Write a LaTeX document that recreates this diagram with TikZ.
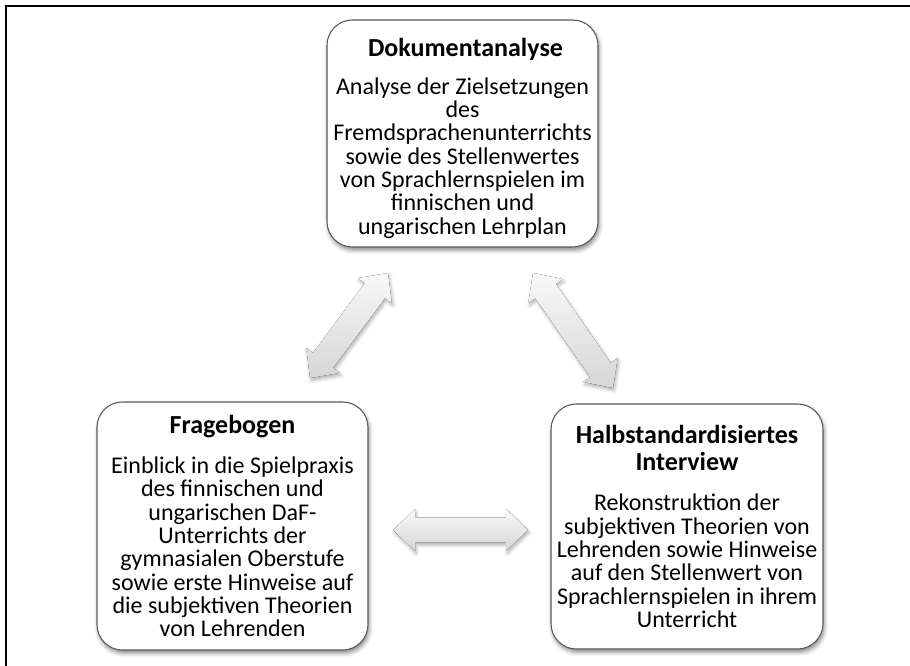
\documentclass[tikz,border=0pt]{standalone}
\usepackage{fontspec}
\setmainfont{Carlito}
\usetikzlibrary{calc,shadows.blur}
\newcommand\blockarrow[2]{%
  \fill[barrow] (#1)
    -- ($(#1)!16.5pt!(#2)!15.75pt!90:(#2)$)
    -- ($(#1)!16.5pt!(#2)!9.4pt!90:(#2)$)
    -- ($(#2)!16.5pt!(#1)!9.4pt!-90:(#1)$)
    -- ($(#2)!16.5pt!(#1)!15.75pt!-90:(#1)$)
    -- (#2)
    -- ($(#2)!16.5pt!(#1)!15.75pt!90:(#1)$)
    -- ($(#2)!16.5pt!(#1)!9.4pt!90:(#1)$)
    -- ($(#1)!16.5pt!(#2)!9.4pt!-90:(#2)$)
    -- ($(#1)!16.5pt!(#2)!15.75pt!-90:(#2)$)
    -- cycle;}
\begin{document}
\begin{tikzpicture}[x=0.75pt,y=-0.75pt,
  box/.style={draw=black!65, line width=0.8pt, fill=white, rounded corners=19pt,
    blur shadow={shadow xshift=1pt, shadow yshift=-2.5pt, shadow blur radius=3pt, shadow opacity=45},
    inner sep=0pt},
  ttl/.style={font=\fontsize{19.5}{20.3}\selectfont\bfseries, align=center, inner sep=0pt},
  body/.style={font=\fontsize{18}{17.5}\selectfont, align=center, inner sep=0pt},
  barrow/.style={top color=gray!5, bottom color=gray!32,
    blur shadow={shadow xshift=1pt, shadow yshift=-2pt, shadow blur radius=2.5pt, shadow opacity=30}}
]
\useasboundingbox (0,0) rectangle (910,666);
\draw[line width=2pt] (6,668) -- (6,6) -- (912,6);

\node[box, minimum width=203.25pt, minimum height=170.25pt] (dok) at (462.5,133.5) {};
\node[box, minimum width=203.25pt, minimum height=186pt] (fra) at (232.5,526) {};
\node[box, minimum width=204pt, minimum height=183.75pt] (int) at (687,526.5) {};

\node[ttl] (dokt) at ($(dok.north)+(3,30)$) {Dokumentanalyse};
\node[body] (dokb) at ($(dok.north)+(0,138.5)$) {Analyse der Zielsetzungen\\des\\Fremdsprachenunterrichts\\sowie des Stellenwertes\\von Sprachlernspielen im\\finnischen und\\ungarischen Lehrplan};

\node[ttl] (frat) at ($(fra.north)+(0,25)$) {Fragebogen};
\node[body] (frab) at ($(fra.north)+(0,145.5)$) {Einblick in die Spielpraxis\\des finnischen und\\ungarischen DaF-\\Unterrichts der\\gymnasialen Oberstufe\\sowie erste Hinweise auf\\die subjektiven Theorien\\von Lehrenden};

\node[ttl] (intt) at ($(int.north)+(0,44.5)$) {Halbstandardisiertes\\Interview};
\node[body] (intb) at ($(int.north)+(0,157.5)$) {Rekonstruktion der\\subjektiven Theorien von\\Lehrenden sowie Hinweise\\auf den Stellenwert von\\Sprachlernspielen in ihrem\\Unterricht};

\coordinate (a1) at (388,273);
\coordinate (a2) at (310,378);
\coordinate (b1) at (533,273);
\coordinate (b2) at (613,388);
\coordinate (c1) at (393,530);
\coordinate (c2) at (528,530);
\blockarrow{a1}{a2}
\blockarrow{b1}{b2}
\blockarrow{c1}{c2}
\end{tikzpicture}
\end{document}
